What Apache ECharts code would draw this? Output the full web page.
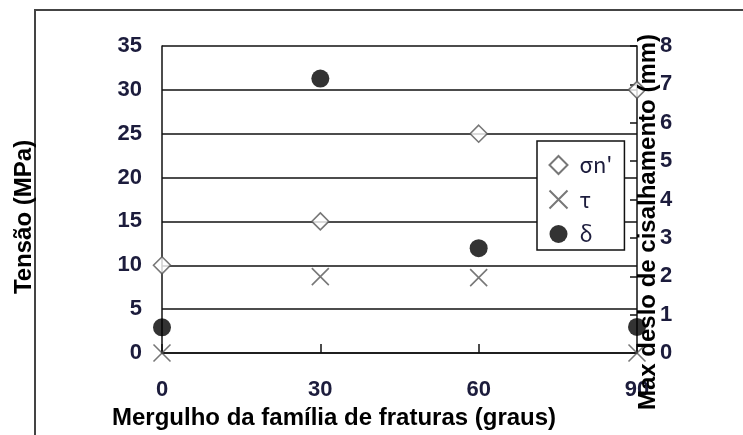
<!DOCTYPE html>
<html>
<head>
<meta charset="utf-8">
<script src="https://cdn.jsdelivr.net/npm/echarts@6/dist/echarts.min.js"></script>
<style>
html,body{margin:0;padding:0;background:#fff;}
#chart{width:743px;height:435px;}
</style>
</head>
<body>
<div id="chart"></div>
<script>
var dipAngles = [0, 30, 60, 90];
var sigmaN = [10, 15, 25, 30];
var tau = [0, 8.7, 8.6, 0];
var delta = [0.67, 7.15, 2.73, 0.68];
var leftTicks = {min: 0, max: 35, interval: 5};
var rightTicks = {min: 0, max: 8, interval: 1};
var xTicks = {min: 0, max: 90, interval: 30};
var seriesNames = ["\u03c3n'", "\u03c4", "\u03b4"];
var titles = {
  x: "Mergulho da família de fraturas (graus)",
  yLeft: "Tensão (MPa)",
  yRight: "Max deslo de cisalhamento (mm)"
};

function pairs(xs, ys){ return xs.map(function(x,i){ return [x, ys[i]]; }); }

var chart = echarts.init(document.getElementById('chart'));
var labelColor = '#1c1c3c';
var tickFont = {color: labelColor, fontSize: 22, fontWeight: 'bold', fontFamily: 'Liberation Sans, Arial, sans-serif'};
var titleFont = 'bold 24px Liberation Sans, Arial, sans-serif';

chart.setOption({
  animation: false,
  backgroundColor: '#fff',
  grid: {left: 162, right: 106, top: 46, bottom: 82},
  xAxis: {
    type: 'value', min: xTicks.min, max: xTicks.max, interval: xTicks.interval,
    axisLine: {show: true, lineStyle: {color: '#111', width: 1.5}},
    axisTick: {show: true, inside: true, length: 9, lineStyle: {color: '#111', width: 1.5}},
    splitLine: {show: false},
    axisLabel: Object.assign({margin: 26}, tickFont)
  },
  yAxis: [{
    type: 'value', min: leftTicks.min, max: leftTicks.max, interval: leftTicks.interval,
    axisLine: {show: true, lineStyle: {color: '#111', width: 1.5}},
    axisTick: {show: false},
    splitLine: {show: true, lineStyle: {color: '#111', width: 1.5}},
    axisLabel: Object.assign({margin: 20}, tickFont)
  }, {
    type: 'value', position: 'right', min: rightTicks.min, max: rightTicks.max, interval: rightTicks.interval,
    axisLine: {show: true, lineStyle: {color: '#111', width: 1.5}},
    axisTick: {show: true, inside: true, length: 7, lineStyle: {color: '#111', width: 1.5}},
    splitLine: {show: false},
    axisLabel: Object.assign({margin: 23}, tickFont)
  }],
  legend: {
    orient: 'vertical', left: 537, top: 141,
    backgroundColor: '#fff', borderColor: '#111', borderWidth: 1.5,
    padding: [13, 12, 5, 10], itemGap: 12, itemWidth: 18, itemHeight: 18,
    textStyle: {color: labelColor, fontSize: 22, lineHeight: 18, padding: [0, 0, 0, 7], fontFamily: 'Noto Sans CJK JP, sans-serif'},
    data: seriesNames
  },
  series: [{
    name: seriesNames[0], type: 'scatter', yAxisIndex: 0, clip: false,
    symbol: 'diamond', symbolSize: 17,
    itemStyle: {color: '#fff', borderColor: '#555', borderWidth: 1.6},
    data: pairs(dipAngles, sigmaN), z: 5
  }, {
    name: seriesNames[1], type: 'scatter', yAxisIndex: 0, clip: false,
    symbol: 'path://M0,0L10,10M10,0L0,10', symbolSize: 17,
    itemStyle: {color: 'none', borderColor: '#555', borderWidth: 1.6},
    data: pairs(dipAngles, tau), z: 5
  }, {
    name: seriesNames[2], type: 'scatter', yAxisIndex: 1, clip: false,
    symbol: 'circle', symbolSize: 18,
    itemStyle: {color: '#000'},
    data: pairs(dipAngles, delta), z: 5
  }],
  graphic: [{
    type: 'polyline', z: 10,
    shape: {points: [[35, 435], [35, 10], [743, 10]]},
    style: {fill: null, stroke: '#444', lineWidth: 2}
  }, {
    type: 'text', x: 112, y: 418, z: 20,
    style: {text: titles.x, fill: '#000', font: titleFont, textVerticalAlign: 'middle'}
  }, {
    type: 'text', x: 24, y: 217, rotation: Math.PI / 2, z: 20,
    style: {text: titles.yLeft, fill: '#000', font: titleFont, textAlign: 'center', textVerticalAlign: 'middle'}
  }, {
    type: 'text', x: 648, y: 222, rotation: Math.PI / 2, z: 20,
    style: {text: titles.yRight, fill: '#000', font: titleFont, textAlign: 'center', textVerticalAlign: 'middle'}
  }]
});
</script>
</body>
</html>
